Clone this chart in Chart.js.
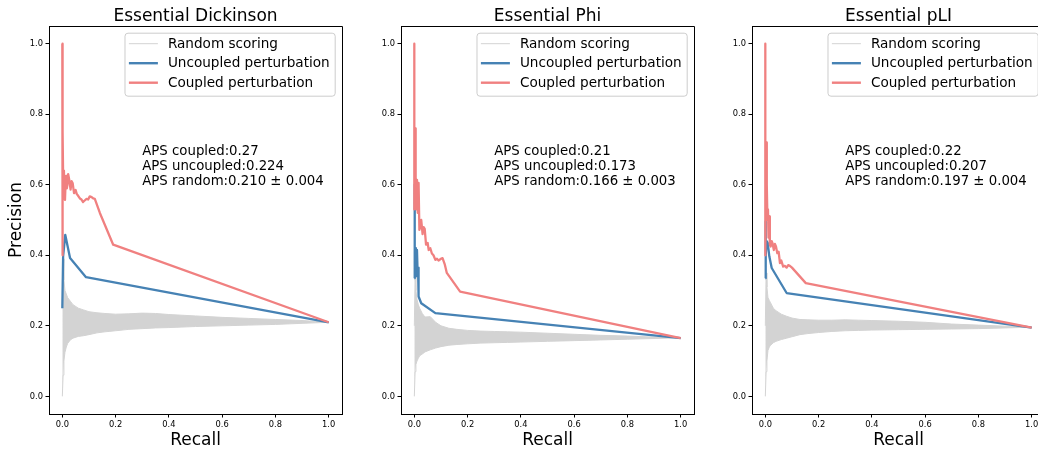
<!DOCTYPE html>
<html>
<head>
<meta charset="utf-8">
<script src="https://cdn.jsdelivr.net/npm/chart.js"></script>
<style>
    html, body { margin: 0; padding: 0; background: #fff; overflow: hidden; }
    #wrap { position: relative; width: 1038px; height: 451px; overflow: hidden; background: #fff; }
    #wrap canvas { position: absolute; top: 0; }
</style>
</head>
<body>
<div id="wrap">
    <canvas id="c1" width="350" height="451" style="left:0px"></canvas>
    <canvas id="c2" width="350" height="451" style="left:352px"></canvas>
    <canvas id="c3" width="350" height="451" style="left:703px"></canvas>
</div>
<script>
// 축 눈금
const xTicks = [0.0, 0.2, 0.4, 0.6, 0.8, 1.0];
const yTicks = [0.0, 0.2, 0.4, 0.6, 0.8, 1.0];
const titles = ['Essential Dickinson', 'Essential Phi', 'Essential pLI'];
const legendLabels = ['Random scoring', 'Uncoupled perturbation', 'Coupled perturbation'];

// APS 텍스트
const apsCoupled = ['0.27', '0.21', '0.22'];
const apsUncoupled = ['0.224', '0.173', '0.207'];
const apsRandom = ['0.210 ± 0.004', '0.166 ± 0.003', '0.197 ± 0.004'];

// Random scoring 범위 (상단/하단 경계)
const randRecall = [0, 0.003, 0.006, 0.01, 0.015, 0.02, 0.03, 0.04, 0.06, 0.08, 0.1, 0.13, 0.16, 0.2, 0.25, 0.3, 0.35, 0.4, 0.5, 0.6, 0.7, 0.8, 0.9, 1.0];
const randUpperDick = [0.25, 0.39, 0.33, 0.30, 0.29, 0.28, 0.27, 0.26, 0.25, 0.245, 0.24, 0.237, 0.235, 0.233, 0.234, 0.236, 0.235, 0.232, 0.228, 0.224, 0.221, 0.218, 0.215, 0.21];
const randLowerDick = [0.0, 0.06, 0.1, 0.125, 0.14, 0.15, 0.16, 0.165, 0.17, 0.172, 0.175, 0.18, 0.183, 0.186, 0.19, 0.192, 0.194, 0.195, 0.198, 0.2, 0.202, 0.204, 0.207, 0.21];
const randUpperPhi = [0.2, 0.34, 0.30, 0.275, 0.26, 0.25, 0.235, 0.225, 0.226, 0.21, 0.2, 0.193, 0.19, 0.187, 0.185, 0.184, 0.183, 0.182, 0.179, 0.176, 0.173, 0.171, 0.168, 0.166];
const randLowerPhi = [0.0, 0.07, 0.09, 0.1, 0.108, 0.115, 0.12, 0.126, 0.132, 0.137, 0.141, 0.145, 0.147, 0.149, 0.151, 0.152, 0.153, 0.154, 0.156, 0.158, 0.16, 0.162, 0.164, 0.166];
const randUpperPli = [0.2, 0.35, 0.31, 0.28, 0.272, 0.265, 0.25, 0.243, 0.233, 0.227, 0.222, 0.218, 0.217, 0.216, 0.216, 0.217, 0.216, 0.215, 0.213, 0.21, 0.205, 0.202, 0.199, 0.196];
const randLowerPli = [0.0, 0.07, 0.1, 0.13, 0.14, 0.145, 0.152, 0.156, 0.161, 0.165, 0.169, 0.175, 0.178, 0.181, 0.184, 0.186, 0.187, 0.188, 0.189, 0.19, 0.191, 0.192, 0.194, 0.196];

// Uncoupled perturbation
const uncRecallDick = [0.0, 0.002, 0.003, 0.011, 0.029, 0.089, 1.0];
const uncPrecDick = [0.25, 0.25, 0.397, 0.458, 0.392, 0.338, 0.21];
const uncRecallPhi = [0.0, 0.001, 0.002, 0.004, 0.006, 0.01, 0.012, 0.014, 0.016, 0.026, 0.079, 1.0];
const uncPrecPhi = [0.335, 0.6, 0.36, 0.42, 0.34, 0.415, 0.36, 0.365, 0.283, 0.264, 0.236, 0.165];
const uncRecallPli = [0.0, 0.001, 0.002, 0.005, 0.009, 0.015, 0.024, 0.08, 1.0];
const uncPrecPli = [0.335, 0.496, 0.4, 0.44, 0.435, 0.397, 0.364, 0.293, 0.195];

// Coupled perturbation
const cplRecallDick = [0.0, 0.0, 0.002, 0.004, 0.006, 0.008, 0.01, 0.012, 0.014, 0.017, 0.019, 0.022, 0.026, 0.031, 0.035, 0.039, 0.044, 0.05, 0.054, 0.06, 0.066, 0.072, 0.078, 0.085, 0.091, 0.097, 0.103, 0.11, 0.116, 0.122, 0.141, 0.191, 1.0];
const cplPrecDick = [1.0, 0.4, 0.75, 0.56, 0.64, 0.58, 0.557, 0.6, 0.625, 0.59, 0.6, 0.63, 0.614, 0.586, 0.61, 0.604, 0.576, 0.585, 0.574, 0.568, 0.561, 0.558, 0.551, 0.556, 0.56, 0.558, 0.567, 0.565, 0.561, 0.56, 0.52, 0.43, 0.21];
const cplRecallPhi = [0.0, 0.0, 0.003, 0.004, 0.006, 0.008, 0.01, 0.013, 0.016, 0.019, 0.022, 0.026, 0.031, 0.035, 0.039, 0.044, 0.05, 0.054, 0.06, 0.066, 0.072, 0.079, 0.085, 0.091, 0.1, 0.106, 0.114, 0.122, 0.172, 1.0];
const cplPrecPhi = [1.0, 0.53, 0.76, 0.55, 0.61, 0.53, 0.614, 0.52, 0.605, 0.472, 0.48, 0.5, 0.46, 0.48, 0.475, 0.43, 0.435, 0.415, 0.42, 0.405, 0.4, 0.387, 0.39, 0.385, 0.39, 0.392, 0.375, 0.35, 0.297, 0.165];
const cplRecallPli = [0.0, 0.0, 0.003, 0.005, 0.006, 0.008, 0.01, 0.012, 0.015, 0.017, 0.02, 0.024, 0.027, 0.032, 0.036, 0.04, 0.045, 0.05, 0.055, 0.06, 0.067, 0.073, 0.08, 0.086, 0.092, 0.1, 0.152, 1.0];
const cplPrecPli = [1.0, 0.4, 0.72, 0.55, 0.6, 0.5, 0.53, 0.45, 0.51, 0.43, 0.425, 0.44, 0.434, 0.415, 0.432, 0.425, 0.406, 0.41, 0.378, 0.385, 0.368, 0.37, 0.365, 0.372, 0.37, 0.365, 0.321, 0.195];

const FONT = "'DejaVu Sans', sans-serif";
const GRAY = '#d3d3d3';
const BLUE = '#4682b4';
const RED = '#f08080';

function pts(xs, ys) {
    return xs.map((x, i) => ({ x: x, y: ys[i] }));
}

// 제목, 범례, APS 텍스트, 위/오른쪽 테두리
const extrasPlugin = {
    id: 'extras',
    afterDraw(chart, args, opts) {
        const { ctx, chartArea } = chart;
        const xs = chart.scales.x, ys = chart.scales.y;
        ctx.save();

        // 위/오른쪽 테두리
        ctx.strokeStyle = '#000';
        ctx.lineWidth = 1;
        ctx.beginPath();
        ctx.moveTo(chartArea.left, chartArea.top + 0.5);
        ctx.lineTo(chartArea.right + 0.5, chartArea.top + 0.5);
        ctx.lineTo(chartArea.right + 0.5, chartArea.bottom);
        ctx.stroke();

        // 제목
        ctx.fillStyle = '#000';
        ctx.font = `17px ${FONT}`;
        ctx.textAlign = 'center';
        ctx.textBaseline = 'alphabetic';
        ctx.fillText(opts.title, (chartArea.left + chartArea.right) / 2, 21);

        // APS 텍스트 (0.3, 0.6 기준)
        ctx.font = `13.3px ${FONT}`;
        ctx.textAlign = 'left';
        const tx = xs.getPixelForValue(0.3);
        const ty = ys.getPixelForValue(0.6);
        opts.lines.forEach((line, i) => {
            ctx.fillText(line, tx, ty - (opts.lines.length - 1 - i) * 14.7);
        });

        // 범례
        ctx.font = `13.6px ${FONT}`;
        const textW = Math.max(...legendLabels.map(t => ctx.measureText(t).width));
        const boxW = 4.4 + 29 + 10 + textW + 5;
        const boxR = chartArea.right - 7.3;
        const boxL = boxR - boxW;
        const boxT = chartArea.top + 6.7;
        const boxH = 63;
        ctx.fillStyle = 'rgba(255,255,255,0.8)';
        ctx.strokeStyle = '#cccccc';
        ctx.lineWidth = 1;
        ctx.beginPath();
        ctx.roundRect(boxL + 0.5, boxT + 0.5, boxW, boxH, 3);
        ctx.fill();
        ctx.stroke();
        const colors = [GRAY, BLUE, RED];
        const widths = [1, 2.4, 2.4];
        legendLabels.forEach((label, i) => {
            const cy = boxT + 11 + i * 19.5;
            ctx.strokeStyle = colors[i];
            ctx.lineWidth = widths[i];
            ctx.beginPath();
            ctx.moveTo(boxL + 4.4, cy);
            ctx.lineTo(boxL + 33.4, cy);
            ctx.stroke();
            ctx.fillStyle = '#000';
            ctx.textBaseline = 'middle';
            ctx.fillText(label, boxL + 43.4, cy + 0.5);
        });
        ctx.restore();
    }
};

function makeChart(id, idx, randUpper, randLower, uncR, uncP, cplR, cplP, showYTitle) {
    const ctx = document.getElementById(id).getContext('2d');
    return new Chart(ctx, {
        type: 'line',
        data: {
            datasets: [
                {
                    data: pts(randRecall, randLower),
                    borderColor: GRAY,
                    borderWidth: 1,
                    fill: false,
                    order: 4
                },
                {
                    data: pts(randRecall, randUpper),
                    borderColor: GRAY,
                    backgroundColor: GRAY,
                    borderWidth: 1,
                    fill: '-1',
                    order: 3
                },
                {
                    data: pts(uncR, uncP),
                    borderColor: BLUE,
                    borderWidth: 2.3,
                    fill: false,
                    order: 2
                },
                {
                    data: pts(cplR, cplP),
                    borderColor: RED,
                    borderWidth: 2.3,
                    fill: false,
                    order: 1
                }
            ]
        },
        options: {
            responsive: false,
            animation: false,
            events: [],
            elements: {
                point: { radius: 0 },
                line: { tension: 0, borderJoinStyle: 'round', borderCapStyle: 'butt' }
            },
            layout: { padding: { top: 26, right: 8, left: 0, bottom: 0 } },
            plugins: {
                legend: { display: false },
                title: { display: false },
                tooltip: { enabled: false },
                extras: {
                    title: titles[idx],
                    lines: [
                        'APS coupled:' + apsCoupled[idx],
                        'APS uncoupled:' + apsUncoupled[idx],
                        'APS random:' + apsRandom[idx]
                    ]
                }
            },
            scales: {
                x: {
                    type: 'linear',
                    min: -0.05,
                    max: 1.05,
                    afterBuildTicks: s => { s.ticks = xTicks.map(v => ({ value: v })); },
                    afterFit: s => { s.height = 37; },
                    ticks: {
                        callback: v => v.toFixed(1),
                        font: { size: 8.3, family: FONT },
                        color: '#000',
                        padding: 2,
                        maxRotation: 0,
                        autoSkip: false
                    },
                    grid: { drawOnChartArea: false, drawTicks: true, tickLength: 3.5, color: '#000' },
                    border: { display: true, color: '#000', width: 1 },
                    title: {
                        display: true,
                        text: 'Recall',
                        color: '#000',
                        font: { size: 17, family: FONT },
                        padding: { top: 0, bottom: 0 }
                    }
                },
                y: {
                    type: 'linear',
                    min: -0.05,
                    max: 1.05,
                    afterBuildTicks: s => { s.ticks = yTicks.map(v => ({ value: v })); },
                    afterFit: s => { s.width = 49; },
                    ticks: {
                        callback: v => v.toFixed(1),
                        font: { size: 8.3, family: FONT },
                        color: '#000',
                        padding: 2.5,
                        autoSkip: false
                    },
                    grid: { drawOnChartArea: false, drawTicks: true, tickLength: 3.5, color: '#000' },
                    border: { display: true, color: '#000', width: 1 },
                    title: {
                        display: showYTitle,
                        text: 'Precision',
                        color: '#000',
                        font: { size: 17, family: FONT },
                        padding: { top: 6, bottom: 0 }
                    }
                }
            }
        },
        plugins: [extrasPlugin]
    });
}

makeChart('c1', 0, randUpperDick, randLowerDick, uncRecallDick, uncPrecDick, cplRecallDick, cplPrecDick, true);
makeChart('c2', 1, randUpperPhi, randLowerPhi, uncRecallPhi, uncPrecPhi, cplRecallPhi, cplPrecPhi, false);
makeChart('c3', 2, randUpperPli, randLowerPli, uncRecallPli, uncPrecPli, cplRecallPli, cplPrecPli, false);
</script>
</body>
</html>
